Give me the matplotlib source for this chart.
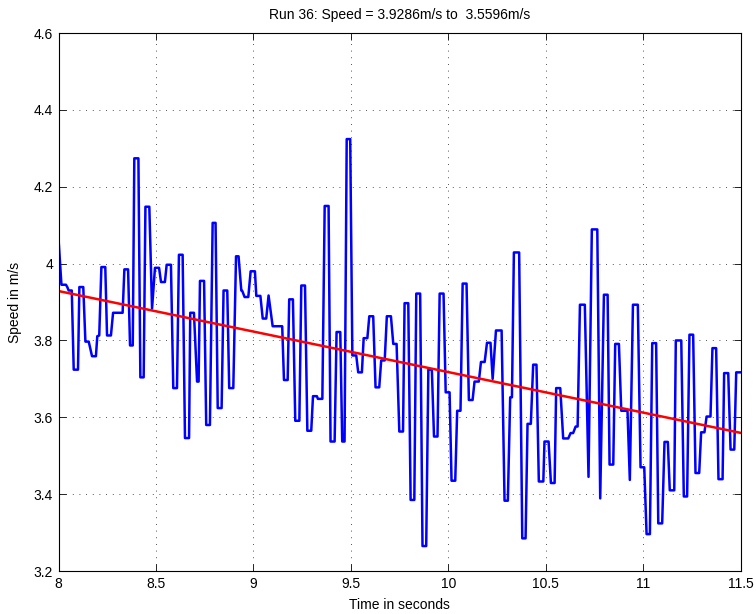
import numpy as np
import matplotlib
matplotlib.use("Agg")
import matplotlib.pyplot as plt

plt.rcParams['font.family'] = ['Liberation Sans', 'DejaVu Sans']

# measured speed trace (time in s, speed in m/s)
t = [8.000, 8.015, 8.038, 8.045, 8.052, 8.068, 8.078, 8.100, 8.107, 8.127,
     8.138, 8.155, 8.172, 8.192, 8.199, 8.209, 8.220, 8.240, 8.249, 8.269,
     8.280, 8.329, 8.338, 8.357, 8.367, 8.381, 8.389, 8.410, 8.420, 8.437,
     8.446, 8.466, 8.480, 8.495, 8.516, 8.526, 8.546, 8.555, 8.577, 8.589,
     8.608, 8.618, 8.637, 8.649, 8.670, 8.676, 8.695, 8.711, 8.719, 8.726,
     8.747, 8.758, 8.777, 8.791, 8.806, 8.817, 8.837, 8.847, 8.866, 8.876,
     8.897, 8.911, 8.924, 8.938, 8.943, 8.955, 8.974, 8.986, 9.008, 9.015,
     9.036, 9.048, 9.066, 9.078, 9.099, 9.148, 9.157, 9.176, 9.184, 9.203,
     9.215, 9.236, 9.246, 9.265, 9.277, 9.297, 9.306, 9.326, 9.331, 9.354,
     9.366, 9.386, 9.396, 9.417, 9.427, 9.446, 9.456, 9.468, 9.479, 9.497,
     9.508, 9.528, 9.538, 9.557, 9.566, 9.585, 9.595, 9.615, 9.627, 9.646,
     9.656, 9.674, 9.685, 9.706, 9.718, 9.735, 9.749, 9.768, 9.776, 9.795,
     9.807, 9.826, 9.836, 9.856, 9.868, 9.887, 9.898, 9.916, 9.927, 9.945,
     9.956, 9.976, 9.987, 10.007, 10.017, 10.036, 10.046, 10.063, 10.074, 10.094,
     10.106, 10.125, 10.135, 10.157, 10.168, 10.187, 10.199, 10.217, 10.228, 10.245,
     10.274, 10.289, 10.306, 10.318, 10.327, 10.337, 10.364, 10.380, 10.397, 10.407,
     10.424, 10.436, 10.453, 10.465, 10.488, 10.494, 10.515, 10.527, 10.546, 10.554,
     10.575, 10.590, 10.616, 10.628, 10.641, 10.654, 10.664, 10.676, 10.701, 10.720,
     10.737, 10.765, 10.780, 10.799, 10.818, 10.828, 10.847, 10.857, 10.876, 10.888,
     10.920, 10.932, 10.948, 10.973, 10.987, 11.006, 11.018, 11.035, 11.047, 11.067,
     11.078, 11.098, 11.110, 11.127, 11.137, 11.160, 11.168, 11.196, 11.209, 11.226,
     11.238, 11.257, 11.269, 11.288, 11.298, 11.315, 11.326, 11.346, 11.356, 11.375,
     11.387, 11.408, 11.416, 11.437, 11.449, 11.468, 11.478, 11.500]
speed = [4.065, 3.945, 3.945, 3.939, 3.930, 3.930, 3.724, 3.724, 3.939, 3.939,
         3.797, 3.797, 3.759, 3.759, 3.811, 3.813, 3.991, 3.991, 3.813, 3.813,
         3.872, 3.872, 3.985, 3.985, 3.787, 3.787, 4.274, 4.274, 3.704, 3.704,
         4.148, 4.148, 3.883, 3.989, 3.989, 3.952, 3.952, 3.997, 3.997, 3.676,
         3.676, 4.023, 4.023, 3.546, 3.546, 3.872, 3.872, 3.693, 3.693, 3.955,
         3.955, 3.580, 3.580, 4.106, 4.106, 3.624, 3.624, 3.930, 3.930, 3.676,
         3.676, 4.019, 4.019, 3.930, 3.929, 3.913, 3.913, 3.980, 3.980, 3.916,
         3.916, 3.857, 3.857, 3.917, 3.837, 3.837, 3.697, 3.697, 3.907, 3.907,
         3.591, 3.591, 3.943, 3.943, 3.565, 3.565, 3.655, 3.655, 3.648, 3.648,
         4.150, 4.150, 3.537, 3.537, 3.822, 3.822, 3.537, 3.537, 4.324, 4.324,
         3.761, 3.761, 3.717, 3.717, 3.806, 3.806, 3.863, 3.863, 3.678, 3.678,
         3.748, 3.748, 3.863, 3.863, 3.791, 3.791, 3.563, 3.563, 3.897, 3.897,
         3.385, 3.385, 3.922, 3.922, 3.265, 3.265, 3.724, 3.724, 3.550, 3.550,
         3.922, 3.922, 3.665, 3.665, 3.435, 3.435, 3.617, 3.617, 3.948, 3.948,
         3.645, 3.645, 3.693, 3.693, 3.744, 3.744, 3.794, 3.794, 3.700, 3.826,
         3.826, 3.383, 3.383, 3.652, 3.652, 4.029, 4.029, 3.285, 3.285, 3.583,
         3.583, 3.737, 3.737, 3.433, 3.433, 3.537, 3.537, 3.429, 3.429, 3.676,
         3.676, 3.545, 3.545, 3.559, 3.559, 3.576, 3.576, 3.893, 3.893, 3.445,
         4.089, 4.089, 3.389, 3.919, 3.919, 3.477, 3.477, 3.791, 3.791, 3.617,
         3.617, 3.437, 3.893, 3.893, 3.470, 3.470, 3.296, 3.296, 3.793, 3.793,
         3.324, 3.324, 3.536, 3.536, 3.410, 3.410, 3.800, 3.800, 3.394, 3.394,
         3.815, 3.815, 3.455, 3.455, 3.561, 3.561, 3.602, 3.602, 3.780, 3.780,
         3.439, 3.439, 3.715, 3.715, 3.516, 3.516, 3.717, 3.717]

# linear trend end points
fit_t = [8.0, 11.5]
fit_v = [3.9286, 3.5596]

xticks = [8, 8.5, 9, 9.5, 10, 10.5, 11, 11.5]
xlabels = ['8', '8.5', '9', '9.5', '10', '10.5', '11', '11.5']
yticks = [3.2, 3.4, 3.6, 3.8, 4.0, 4.2, 4.4, 4.6]
ylabels = ['3.2', '3.4', '3.6', '3.8', '4', '4.2', '4.4', '4.6']

fig = plt.figure(figsize=(7.56, 6.14), dpi=100)
ax = fig.add_axes([0.0774, 0.0700, 0.9021, 0.8762])

ax.plot(t, speed, color='#0000ff', lw=1.8)
ax.plot(fit_t, fit_v, color='#ff0000', lw=1.8)

ax.set_xlim(8, 11.5)
ax.set_ylim(3.2, 4.6)
ax.set_xticks(xticks)
ax.set_xticklabels(xlabels)
ax.set_yticks(yticks)
ax.set_yticklabels(ylabels)
ax.tick_params(direction='in', length=5, width=0.6, top=True, right=True,
               labelsize=10, pad=4)
ax.grid(True, color='k', linestyle=(0, (1, 7)), linewidth=0.6, alpha=0.9)
for s in ax.spines.values():
    s.set_linewidth(0.8)

ax.set_title('Run 36: Speed = 3.9286m/s to  3.5596m/s', fontsize=10, pad=10)
ax.set_xlabel('Time in seconds', fontsize=10, labelpad=5)
ax.set_ylabel('Speed in m/s', fontsize=10, labelpad=8)

fig.savefig('out.png', dpi=100)
